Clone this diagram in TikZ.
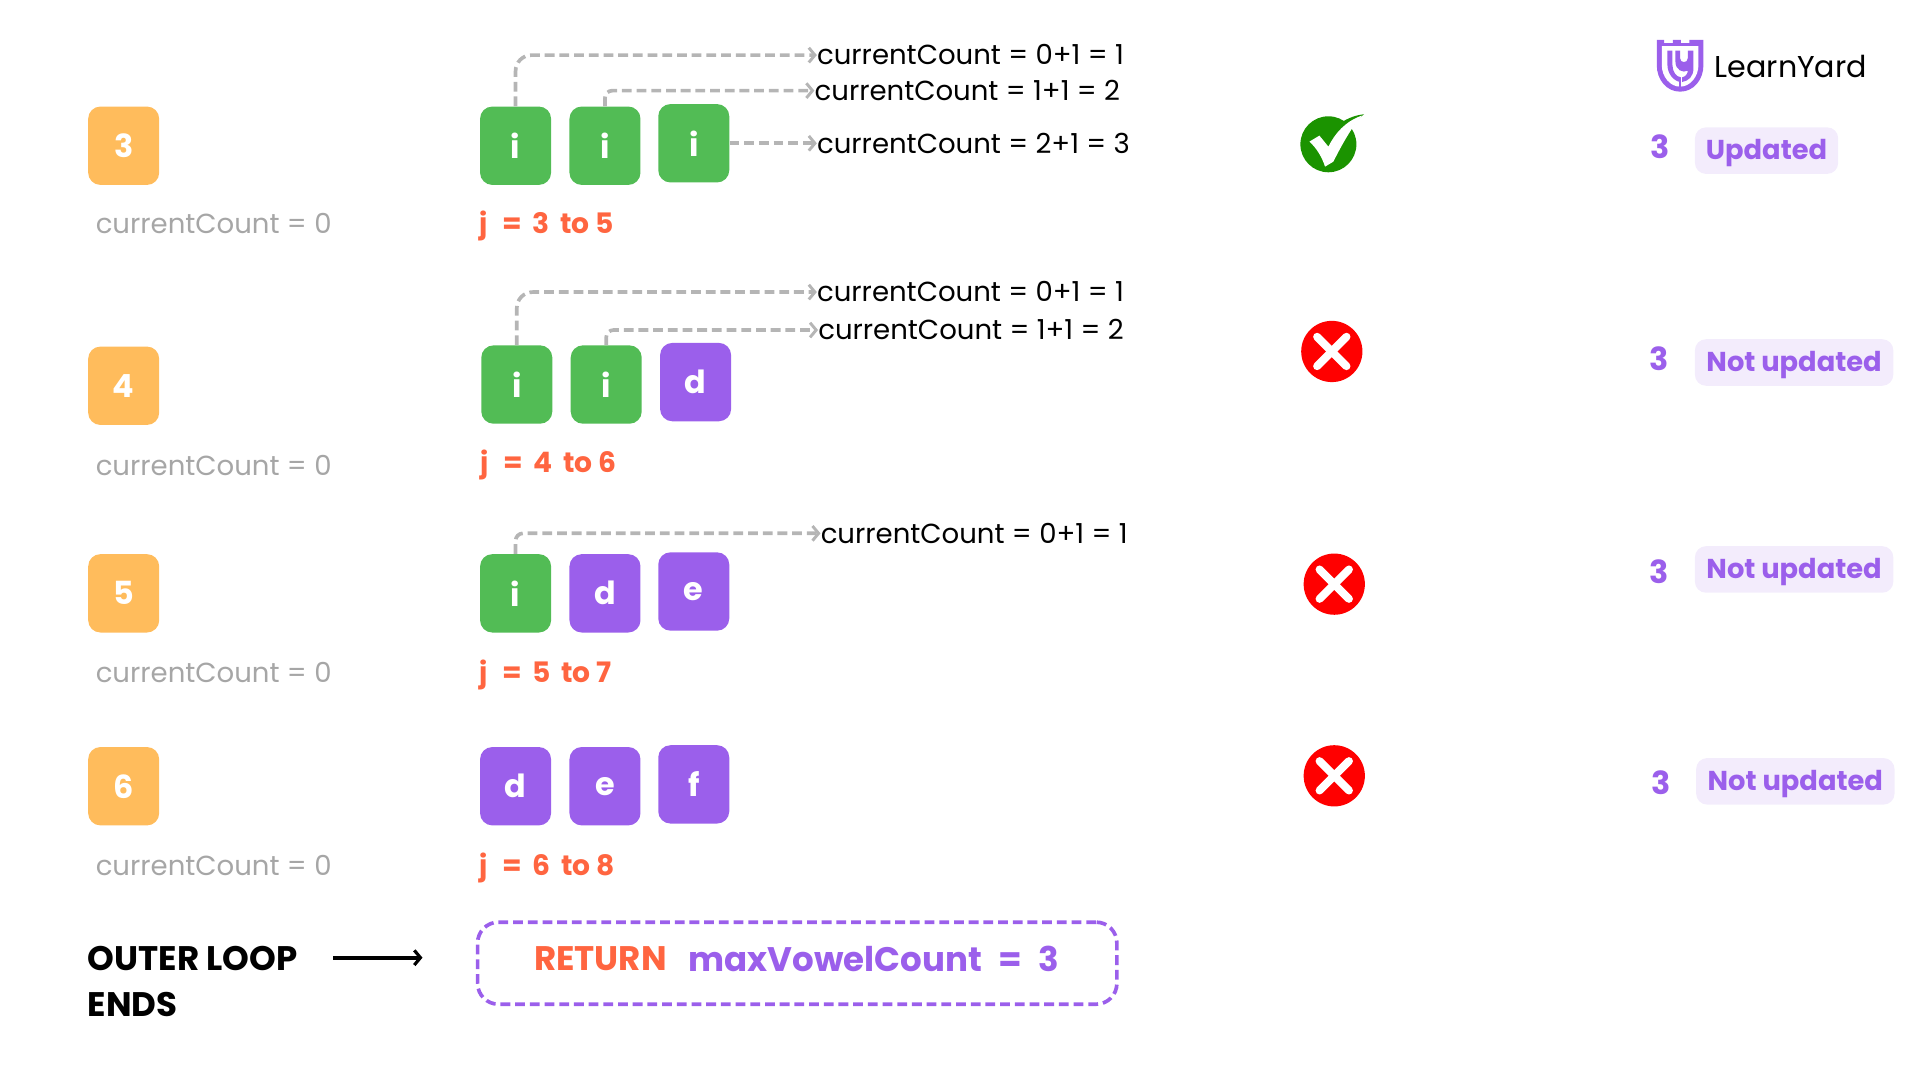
\documentclass[tikz,border=0pt]{standalone}
\usepackage{fontspec}
\setmainfont{Poppins}
\usetikzlibrary{arrows.meta}
\definecolor{cyel}{HTML}{FFBC5C}
\definecolor{cgrn}{HTML}{52BC55}
\definecolor{cpur}{HTML}{9B5FEB}
\definecolor{corg}{HTML}{FF6540}
\definecolor{cpil}{HTML}{F3ECFC}
\definecolor{cgry}{HTML}{A6A6A6}
\definecolor{ccon}{HTML}{B5B5B5}
\definecolor{ccheck}{HTML}{1B9300}
\newcommand{\fsz}[1]{\fontsize{#1}{#1}\selectfont}
\newcommand{\jrange}[3]{j\hspace{12pt}=\hspace{8pt}#1\hspace{9pt}to #3}
\tikzset{
 x=1pt,y=-1pt,
 tile/.style={minimum width=58pt,minimum height=64pt,inner sep=0pt,rounded corners=10pt,text=white,font=\bfseries\fsz{26}},
 yel/.style={tile,fill=cyel},
 grn/.style={tile,fill=cgrn},
 pur/.style={tile,fill=cpur},
 cc/.style={anchor=west,inner sep=0pt,text=cgry,font=\fsz{22.5},text height=16pt,text depth=0pt},
 jt/.style={anchor=west,inner sep=0pt,text=corg,font=\bfseries\fsz{23},text height=16pt,text depth=0pt},
 res/.style={anchor=west,inner sep=0pt,text=black,font=\fsz{22.5},text height=16pt,text depth=0pt},
 conn/.style={draw=ccon,line width=3pt,dash pattern=on 8pt off 4pt,rounded corners=13pt,-{Straight Barb[length=5pt,width=12pt,line width=2.4pt]}},
 num/.style={inner sep=0pt,text=cpur,font=\bfseries\fsz{26}},
 pill/.style={minimum height=38pt,inner sep=0pt,rounded corners=9pt,fill=cpil,text=cpur,font=\bfseries\fsz{22.3},text height=18pt,text depth=3pt},
 bad/.style={circle,fill=red,minimum size=50pt,inner sep=0pt},
 xmark/.style={draw=white,line width=6.5pt,line cap=round},
}
\begin{document}
\begin{tikzpicture}
\useasboundingbox (0,0) rectangle (1567.8,882);
% row 1
\node[yel] (y1) at (101,119) {3};
\node[cc] (c1) at (78,183) {currentCount = 0};
\node[grn] (a1) at (421,119) {i};
\node[grn] (a2) at (494,119) {i};
\node[grn] (a3) at (566.5,117) {i};
\node[jt] (j1) at (391.5,183) {\jrange{3}{to}{5}};
\node[res] (r1) at (667,45) {currentCount = 0+1 = 1};
\node[res] (r2) at (665,74) {currentCount = 1+1 = 2};
\node[res] (r3) at (667,117) {currentCount = 2+1 = 3};
\draw[conn] (a1.north) |- (r1.west);
\draw[conn,rounded corners=6pt] (a2.north) |- (r2.west);
\draw[conn] (a3.east) -- (r3.west);
% row 2
\node[yel] (y2) at (101,315) {4};
\node[cc] (c2) at (78,380) {currentCount = 0};
\node[grn] (b1) at (422,314) {i};
\node[grn] (b2) at (495,314) {i};
\node[pur] (b3) at (568,312) {d};
\node[jt] (j2) at (392.5,378) {\jrange{4}{to}{6}};
\node[res] (s1) at (667,238.5) {currentCount = 0+1 = 1};
\node[res] (s2) at (668,269.5) {currentCount = 1+1 = 2};
\draw[conn] (b1.north) |- (s1.west);
\draw[conn,rounded corners=6pt] (b2.north) |- (s2.west);
% row 3
\node[yel] (y3) at (101,484.5) {5};
\node[cc] (c3) at (78,549) {currentCount = 0};
\node[grn] (d1) at (421,484.5) {i};
\node[pur] (d2) at (494,484.5) {d};
\node[pur] (d3) at (566.5,483) {e};
\node[jt] (j3) at (391.5,549) {\jrange{5}{to}{7}};
\node[res] (t1) at (670,435.5) {currentCount = 0+1 = 1};
\draw[conn,rounded corners=6pt] (d1.north) |- (t1.west);
% row 4
\node[yel] (y4) at (101,642) {6};
\node[cc] (c4) at (78,706.5) {currentCount = 0};
\node[pur] (e1) at (421,642) {d};
\node[pur] (e2) at (494,642) {e};
\node[pur] (e3) at (566.5,640.5) {f};
\node[jt] (j4) at (391.5,706.5) {\jrange{6}{to}{8}};
% bottom
\node[anchor=west,inner sep=0pt,font=\bfseries\fsz{27.8}] (o1) at (71.5,783) {OUTER LOOP};
\node[anchor=west,inner sep=0pt,font=\bfseries\fsz{27.8}] (o2) at (71.5,820.5) {ENDS};
\coordinate (af) at (272,782);
\coordinate (at) at (345,782);
\draw[line width=3pt,-{Straight Barb[length=5pt,width=12pt,line width=2.6pt]}] (af) -- (at);
\node[draw=cpur,line width=3pt,dash pattern=on 8pt off 4pt,rounded corners=17pt,minimum width=522pt,minimum height=67pt,inner sep=0pt] (box) at (651,786.5) {};
\node[anchor=west,inner sep=0pt,text=corg,font=\bfseries\fsz{27.8}] (ret) at (436,783) {RETURN};
\node[anchor=west,inner sep=0pt,text=cpur,font=\bfseries\fsz{27.8}] (mv) at (562,783) {maxVowelCount\hspace{13.5pt}=\hspace{13.5pt}3};
% check icon (drawn in a local 3x grid)
\begin{scope}[shift={(1053.4,85.7)},x=0.2722pt,y=-0.2722pt]
\fill[ccheck] (115,118) circle (84);
\fill[ccheck] (150,55) .. controls (175,38) and (200,30) .. (222,28) .. controls (205,40) and (195,50) .. (190,62) -- cycle;
\fill[white] (58,110) -- (88,92) -- (115,125) .. controls (135,85) and (165,50) .. (215,32) .. controls (190,60) and (160,110) .. (130,170) -- (105,185) .. controls (95,155) and (80,130) .. (58,110) -- cycle;
\end{scope}
\node[bad] (x1) at (1087.5,287) {};
\node[bad] (x2) at (1089.5,477) {};
\node[bad] (x3) at (1089.5,633.5) {};
\foreach \n in {x1,x2,x3}{
 \draw[xmark] ([xshift=-12pt,yshift=-12pt]\n.center) -- ([xshift=12pt,yshift=12pt]\n.center);
 \draw[xmark] ([xshift=-12pt,yshift=12pt]\n.center) -- ([xshift=12pt,yshift=-12pt]\n.center);
}
% results
\node[num] (n1) at (1355.5,120) {3};
\node[pill,minimum width=117pt] (p1) at (1442.5,123) {Updated};
\node[num] (n2) at (1355,293) {3};
\node[pill,minimum width=162pt] (p2) at (1465,296) {Not updated};
\node[num] (n3) at (1355,466.5) {3};
\node[pill,minimum width=162pt] (p3) at (1465,465) {Not updated};
\node[num] (n4) at (1356.5,639.5) {3};
\node[pill,minimum width=162pt] (p4) at (1466,638) {Not updated};
% logo (drawn in a local 3x grid)
\begin{scope}[shift={(1347.4,24.5)},x=0.2722pt,y=-0.2722pt]
\fill[cpur] (20,30) -- (42,30) -- (42,40) -- (68,40) -- (68,30) -- (92,30) -- (92,40) -- (118,40) -- (118,30) -- (160,30) -- (160,105) .. controls (160,150) and (130,185) .. (90,185) .. controls (50,185) and (20,150) .. (20,105) -- cycle;
\fill[white] (35,48) -- (145,48) -- (145,105) .. controls (145,140) and (120,170) .. (90,170) .. controls (60,170) and (35,140) .. (35,105) -- cycle;
\fill[cpur] (20,40) rectangle (160,48);
\fill[cpur] (52,62) -- (67,62) -- (67,105) .. controls (67,125) and (78,140) .. (92,142) -- (92,156) .. controls (70,154) and (52,130) .. (52,105) -- cycle;
\fill[cpur] (76,62) -- (90,62) -- (90,85) .. controls (90,100) and (113,100) .. (113,85) -- (113,62) -- (130,62) -- (130,115) .. controls (130,140) and (115,153) .. (96,156) -- (96,142) .. controls (106,140) and (113,132) .. (113,122) .. controls (98,130) and (76,120) .. (76,95) -- cycle;
\fill[cpur] (86,152) rectangle (94,170);
\end{scope}
\node[anchor=west,inner sep=0pt,font=\fsz{24.6}] (lg) at (1400,54) {LearnYard};
\end{tikzpicture}
\end{document}
